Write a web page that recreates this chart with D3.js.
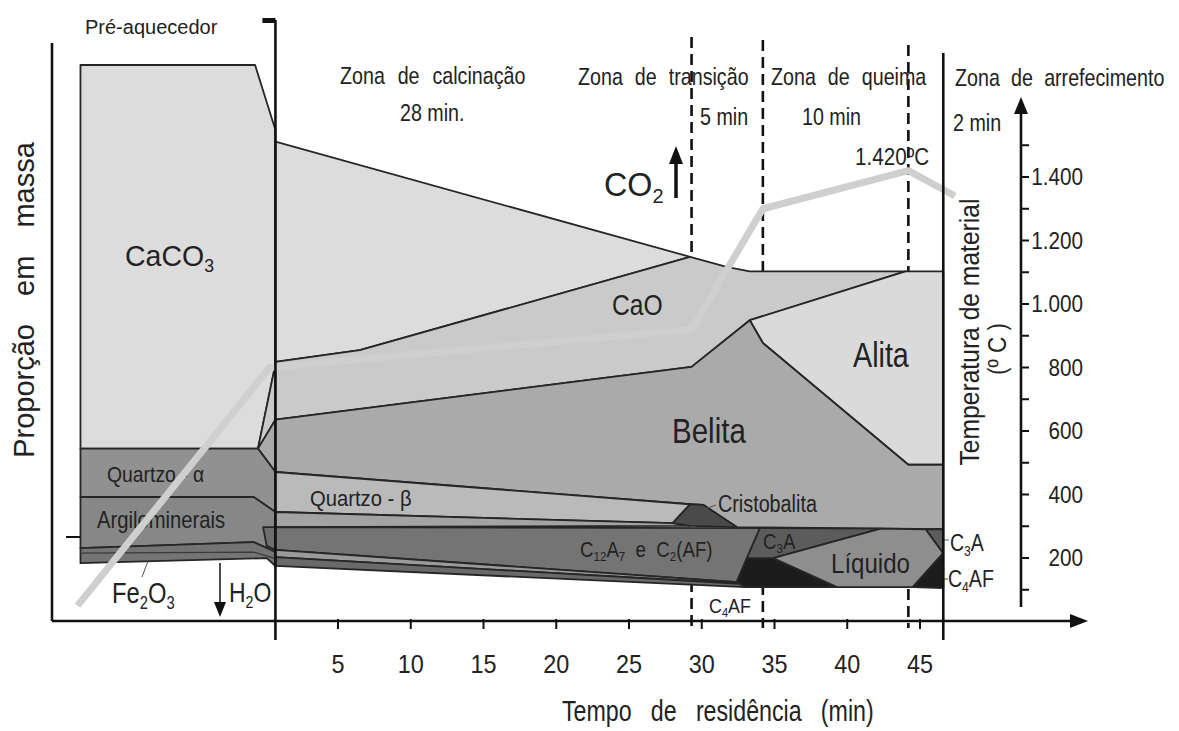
<!DOCTYPE html>
<html><head><meta charset="utf-8">
<script src="https://cdn.jsdelivr.net/npm/d3@7"></script>
<style>html,body{margin:0;padding:0;background:#fff}</style>
</head><body>
<svg id="chart" width="1179" height="731"></svg>
<script>
// Residence time axis (min) and zone boundaries
const timeTicks = [5, 10, 15, 20, 25, 30, 35, 40, 45];
const zoneSolid = [0.7, 46.6];
const zoneDashed = [29.3, 34.2, 44.2];

// Material temperature axis (°C)
const tempMinorTicks = d3.range(100, 1501, 100);
const tempLabelTicks = [200, 400, 600, 800, 1000, 1200, 1400];

// Material temperature along the kiln: time (min) and temperature (°C)
const tempTime = [-12.9, 0.3, 29.3, 34.2, 44.2, 47.4];
const tempValue = [50, 800, 920, 1300, 1420, 1340];

// Phase regions, outlines as [time (min), mass proportion (%)]
// Preheater
const preCaCO3 = [[-12.7,100],[-0.7,100],[0.7,88.3],[0.7,46.2],[-0.5,31.0],[-12.7,31.0]];
const funnelCaO = [[-0.5,31.0],[0.7,46.2],[0.7,36.2]];
const funnelBelita = [[-0.5,31.0],[0.7,36.2],[0.7,26.8]];
const quartzoAlpha = [[-12.7,31.0],[-0.5,31.0],[0.7,26.8],[0.7,19.6],[-0.8,22.3],[-12.7,22.3]];
const argilominerais = [[-12.7,22.3],[-0.8,22.3],[0.7,19.6],[0.7,12.4],[-0.8,14.2],[-12.7,13.1]];
const fe2o3 = [[-12.7,13.1],[-0.8,14.2],[0.7,12.4],[0.7,9.9],[0.1,11.3],[-12.7,10.4]];
const fe2o3Split = [[-12.7,12.2],[-0.8,12.4],[0.7,11.2]];
const c12a7Lens = [[-0.15,16.9],[0.7,16.9],[0.7,12.8],[0.1,13.5]];
// Kiln
const caco3Kiln = [[0.7,86.2],[29.2,65.5],[6.5,48.7],[0.7,46.6]];
const cao = [[0.7,46.6],[6.5,48.7],[29.2,65.5],[31.7,63.7],[33.3,62.9],[44.0,62.9],[33.3,54.1],[29.3,45.7],[0.7,36.2]];
const alita = [[33.3,54.1],[44.0,62.9],[46.6,62.9],[46.6,28.1],[44.2,28.1],[34.2,50.0]];
const belita = [[0.7,36.2],[29.3,45.7],[33.3,54.1],[34.2,50.0],[44.2,28.1],[46.6,28.1],[46.6,16.5],[32.4,16.9],[30.1,20.9],[29.2,21.0],[0.7,26.8]];
const quartzoBeta = [[0.7,26.8],[29.2,21.0],[28.0,17.6],[0.7,19.6]];
const cristobalita = [[28.0,17.6],[29.2,21.0],[30.1,20.9],[32.4,16.9],[29.2,17.1]];
const residual = [[0.7,19.6],[28.0,17.6],[29.2,17.1],[0.7,16.9]];
const c12a7c2af = [[0.7,16.9],[34.0,16.7],[32.4,7.0],[0.7,12.8]];
const lowerBandA = [[0.7,12.8],[32.4,7.0],[32.6,6.7],[0.7,11.5]];
const lowerBandB = [[0.7,11.5],[32.6,6.7],[33.0,6.1],[0.7,9.9]];
const c4afLeft = [[32.4,7.0],[33.1,11.3],[34.9,11.3],[39.3,6.1],[33.0,6.1]];
const c3aLeft = [[34.0,16.7],[42.3,16.6],[34.9,11.3],[33.1,11.3]];
const liquido = [[34.9,11.3],[42.3,16.6],[45.4,16.5],[46.6,12.2],[44.5,6.1],[39.3,6.1]];
const c3aRight = [[45.4,16.5],[46.6,16.5],[46.6,12.2]];
const c4afRight = [[44.5,6.1],[46.6,12.2],[46.6,5.9]];

const phases = [
  {pts: preCaCO3, fill: '#dcdcdc'},
  {pts: funnelCaO, fill: '#cacaca'},
  {pts: funnelBelita, fill: '#aaaaaa'},
  {pts: quartzoAlpha, fill: '#919191'},
  {pts: argilominerais, fill: '#878787'},
  {pts: fe2o3, fill: '#747474'},
  {pts: c12a7Lens, fill: '#6e6e6e'},
  {pts: caco3Kiln, fill: '#dcdcdc'},
  {pts: cao, fill: '#cacaca'},
  {pts: alita, fill: '#dadada'},
  {pts: belita, fill: '#aaaaaa'},
  {pts: quartzoBeta, fill: '#bababa'},
  {pts: residual, fill: '#a3a3a3'},
  {pts: cristobalita, fill: '#4a4a4a'},
  {pts: c12a7c2af, fill: '#747474'},
  {pts: lowerBandA, fill: '#9a9a9a'},
  {pts: lowerBandB, fill: '#6a6a6a'},
  {pts: c4afLeft, fill: '#1c1c1c'},
  {pts: c3aLeft, fill: '#5c5c5c'},
  {pts: liquido, fill: '#8e8e8e'},
  {pts: c3aRight, fill: '#5c5c5c'},
  {pts: c4afRight, fill: '#1c1c1c'}
];

const svg = d3.select('#chart');
const FONT = '"Liberation Sans", Arial, sans-serif';
svg.attr('font-family', FONT);

const x = d3.scaleLinear().domain([0, 45]).range([265.25, 920]);
const yM = d3.scaleLinear().domain([0, 100]).range([621, 65]);
const yT = d3.scaleLinear().domain([0, 1400]).range([621.5, 177]);

const AXIS_Y = 621, LEFT_X = 52, TEMP_AXIS_X = 1021;

// text helper: parts are strings or [string, true] for subscripts
function addText(parent, o) {
  const size = o.size, sx = o.sx || 1;
  const t = parent.append('text')
    .attr('transform', `translate(${o.x},${o.y})` + (o.rotate ? ` rotate(${o.rotate})` : '') + ` scale(${sx},1)`)
    .attr('font-size', size)
    .attr('text-anchor', o.anchor || 'start')
    .attr('fill', o.fill || '#222')
    .style('word-spacing', (o.ws || 0) + 'px');
  const parts = typeof o.parts === 'string' ? [o.parts] : o.parts;
  let shifted = false;
  parts.forEach(p => {
    const isSub = Array.isArray(p) && p[1];
    const str = Array.isArray(p) ? p[0] : p;
    const ts = t.append('tspan').text(str);
    if (isSub) {
      ts.attr('font-size', size * 0.62);
      if (!shifted) { ts.attr('dy', size * 0.2); shifted = true; }
    } else if (shifted) {
      ts.attr('dy', -size * 0.2); shifted = false;
    }
  });
  return t;
}

// dashed zone boundaries (behind the phase regions)
svg.append('g').selectAll('line').data(zoneDashed).join('line')
  .attr('x1', d => x(d)).attr('x2', d => x(d))
  .attr('y1', (d, i) => [37, 40, 45][i]).attr('y2', 628)
  .attr('stroke', '#111').attr('stroke-width', 2.6).attr('stroke-dasharray', '11,6');

// phase regions
const poly = d3.line().x(d => x(d[0])).y(d => yM(d[1])).curve(d3.curveLinearClosed);
svg.append('g').selectAll('path').data(phases).join('path')
  .attr('d', d => poly(d.pts))
  .attr('fill', d => d.fill)
  .attr('stroke', '#262626').attr('stroke-width', 1.8).attr('stroke-linejoin', 'round');

svg.append('path')
  .attr('d', d3.line().x(d => x(d[0])).y(d => yM(d[1]))(fe2o3Split))
  .attr('fill', 'none').attr('stroke', '#3a3a3a').attr('stroke-width', 1.3);

// labels of the phases
const lab = svg.append('g');
addText(lab, {x: 125, y: 266, parts: ['CaCO', ['3', true]], size: 30, sx: 0.95});
addText(lab, {x: 107, y: 482, parts: 'Quartzo - α', size: 22, sx: 0.88});
addText(lab, {x: 97, y: 528, parts: 'Argilominerais', size: 23, sx: 0.88});
addText(lab, {x: 112, y: 603, parts: ['Fe', ['2', true], 'O', ['3', true]], size: 29, sx: 0.82});
addText(lab, {x: 229, y: 602, parts: ['H', ['2', true], 'O'], size: 28, sx: 0.82});
addText(lab, {x: 310, y: 506, parts: 'Quartzo - β', size: 22, sx: 0.92});
addText(lab, {x: 612, y: 315, parts: 'CaO', size: 30, sx: 0.82});
addText(lab, {x: 672, y: 443, parts: 'Belita', size: 36, sx: 0.82});
addText(lab, {x: 853, y: 367, parts: 'Alita', size: 35, sx: 0.82});
addText(lab, {x: 718, y: 512, parts: 'Cristobalita', size: 23, sx: 0.86});
addText(lab, {x: 580, y: 557, parts: ['C', ['12', true], 'A', ['7', true], ' e C', ['2', true], '(AF)'], size: 22, sx: 0.85, ws: 6});
addText(lab, {x: 763, y: 549, parts: ['C', ['3', true], 'A'], size: 22, sx: 0.85});
addText(lab, {x: 831, y: 573, parts: 'Líquido', size: 28, sx: 0.86});
addText(lab, {x: 950, y: 551, parts: ['C', ['3', true], 'A'], size: 23, sx: 0.85});
addText(lab, {x: 948, y: 587, parts: ['C', ['4', true], 'AF'], size: 23, sx: 0.85});
addText(lab, {x: 709, y: 613, parts: ['C', ['4', true], 'AF'], size: 21, sx: 0.85});

// leader lines
const leaders = [[705,509,716,505],[943,540,949,540],[943,579,948,579],[142,577,148,561]];
svg.append('g').selectAll('line').data(leaders).join('line')
  .attr('x1', d => d[0]).attr('y1', d => d[1]).attr('x2', d => d[2]).attr('y2', d => d[3])
  .attr('stroke', '#555').attr('stroke-width', 1);

// material temperature curve
const tempPts = tempTime.map((t, i) => [t, tempValue[i]]);
svg.append('path')
  .attr('d', d3.line().x(d => x(d[0])).y(d => yT(d[1]))(tempPts))
  .attr('fill', 'none').attr('stroke', '#cfcfcf').attr('stroke-width', 7)
  .attr('stroke-linejoin', 'round').attr('stroke-linecap', 'butt');

// solid zone boundaries
svg.append('line').attr('x1', x(zoneSolid[0])).attr('x2', x(zoneSolid[0])).attr('y1', 20).attr('y2', 640)
  .attr('stroke', '#111').attr('stroke-width', 2.6);
svg.append('rect').attr('x', x(zoneSolid[0]) - 13).attr('y', 18).attr('width', 13).attr('height', 5).attr('fill', '#111');
svg.append('line').attr('x1', x(zoneSolid[1])).attr('x2', x(zoneSolid[1])).attr('y1', 53).attr('y2', 640)
  .attr('stroke', '#111').attr('stroke-width', 2.6);

// left axis and mass tick
svg.append('line').attr('x1', LEFT_X).attr('x2', LEFT_X).attr('y1', 43).attr('y2', AXIS_Y)
  .attr('stroke', '#111').attr('stroke-width', 2.6);
svg.append('line').attr('x1', 66).attr('x2', 80).attr('y1', 537).attr('y2', 537)
  .attr('stroke', '#111').attr('stroke-width', 2);

// time axis
svg.append('line').attr('x1', LEFT_X).attr('x2', 1076).attr('y1', AXIS_Y).attr('y2', AXIS_Y)
  .attr('stroke', '#111').attr('stroke-width', 2.6);
svg.append('path').attr('d', `M1070,${AXIS_Y - 7}L1088,${AXIS_Y}L1070,${AXIS_Y + 7}Z`).attr('fill', '#111');
const xAxis = svg.append('g');
xAxis.selectAll('line').data(timeTicks).join('line')
  .attr('x1', d => x(d)).attr('x2', d => x(d)).attr('y1', AXIS_Y - 2).attr('y2', AXIS_Y + 8)
  .attr('stroke', '#111').attr('stroke-width', 2);
timeTicks.forEach(d => addText(xAxis, {x: x(d), y: 673, parts: String(d), size: 26, sx: 0.9, anchor: 'middle'}));
addText(svg, {x: 562, y: 721, parts: 'Tempo de residência (min)', size: 29, sx: 0.8, ws: 16});

// temperature axis
const tAxis = svg.append('g');
tAxis.append('line').attr('x1', TEMP_AXIS_X).attr('x2', TEMP_AXIS_X).attr('y1', 110).attr('y2', 607)
  .attr('stroke', '#111').attr('stroke-width', 2.6);
tAxis.append('path').attr('d', `M${TEMP_AXIS_X - 7},114L${TEMP_AXIS_X},97L${TEMP_AXIS_X + 7},114Z`).attr('fill', '#111');
tAxis.selectAll('line.tick').data(tempMinorTicks).join('line').attr('class', 'tick')
  .attr('x1', TEMP_AXIS_X).attr('x2', TEMP_AXIS_X + 8).attr('y1', d => yT(d)).attr('y2', d => yT(d))
  .attr('stroke', '#111').attr('stroke-width', 2);
const fmt = d => d >= 1000 ? d3.format(',')(d).replace(',', '.') : String(d);
tempLabelTicks.forEach(d => addText(tAxis, {x: 1083, y: yT(d) + 8, parts: fmt(d), size: 23, sx: 0.9, anchor: 'end'}));
addText(svg, {x: 979, y: 332, parts: 'Temperatura de material', size: 28, sx: 0.88, rotate: -90, anchor: 'middle'});
addText(svg, {x: 1006, y: 349, parts: '(º C )', size: 25, sx: 0.9, rotate: -90, anchor: 'middle'});

// left axis title
addText(svg, {x: 34, y: 300, parts: 'Proporção em massa', size: 29, sx: 1, rotate: -90, anchor: 'middle', ws: 20});

// zone titles
const zoneText = svg.append('g');
addText(zoneText, {x: 85, y: 34, parts: 'Pré-aquecedor', size: 20, sx: 1});
addText(zoneText, {x: 340, y: 84, parts: 'Zona de calcinação', size: 24, sx: 0.82, ws: 9});
addText(zoneText, {x: 400, y: 121, parts: '28 min.', size: 24, sx: 0.82});
addText(zoneText, {x: 578, y: 85, parts: 'Zona de transição', size: 24, sx: 0.82, ws: 8});
addText(zoneText, {x: 700, y: 125, parts: '5 min', size: 24, sx: 0.82});
addText(zoneText, {x: 771, y: 85, parts: 'Zona de queima', size: 24, sx: 0.82, ws: 8});
addText(zoneText, {x: 802, y: 125, parts: '10 min', size: 24, sx: 0.82});
addText(zoneText, {x: 955, y: 86, parts: 'Zona de arrefecimento', size: 24, sx: 0.82, ws: 7});
addText(zoneText, {x: 953, y: 131, parts: '2 min', size: 24, sx: 0.82});
addText(zoneText, {x: 855, y: 165, parts: '1.420ºC', size: 24, sx: 0.86});

// CO2 release
addText(zoneText, {x: 604, y: 196, parts: ['CO', ['2', true]], size: 34, sx: 0.95});
zoneText.append('line').attr('x1', 676).attr('x2', 676).attr('y1', 198).attr('y2', 158)
  .attr('stroke', '#111').attr('stroke-width', 3.5);
zoneText.append('path').attr('d', 'M669,164L676,146L683,164Z').attr('fill', '#111');

// H2O release
zoneText.append('line').attr('x1', 220).attr('x2', 220).attr('y1', 563).attr('y2', 604)
  .attr('stroke', '#111').attr('stroke-width', 1.5);
zoneText.append('path').attr('d', 'M214,602L220,617L226,602Z').attr('fill', '#111');
</script>
</body></html>
